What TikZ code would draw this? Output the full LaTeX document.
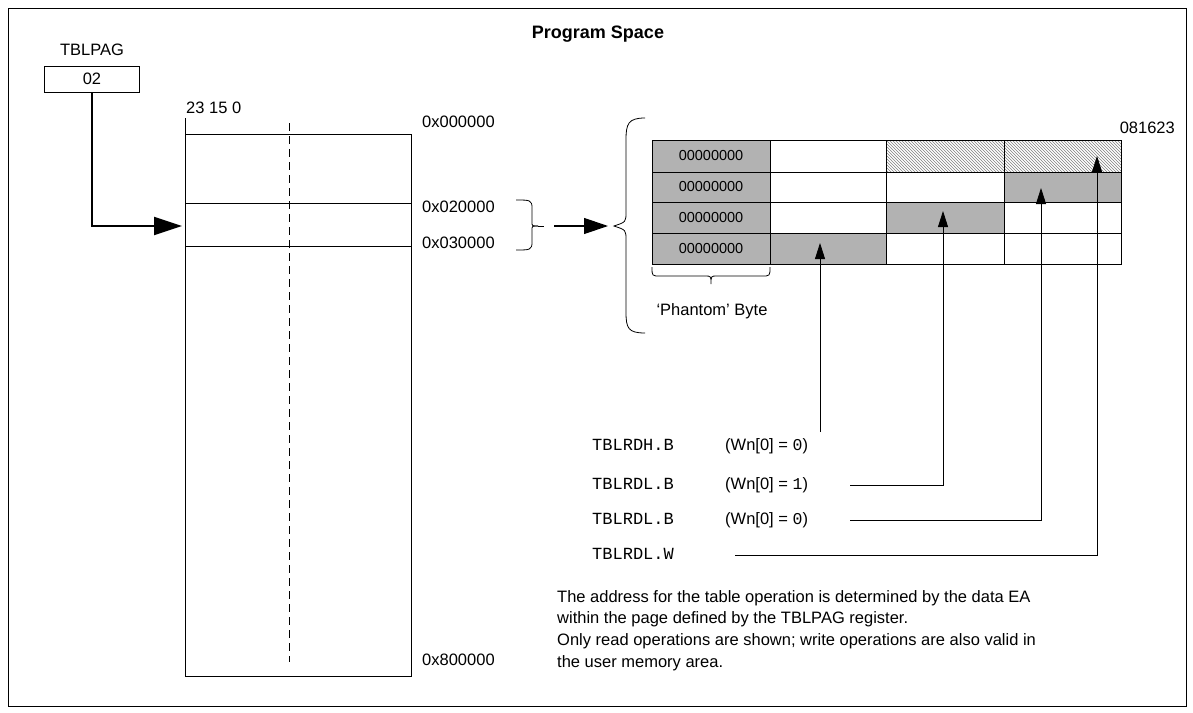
\documentclass[tikz,border=0pt]{standalone}
\usepackage{fontspec}
\setmainfont{Liberation Sans}
\newfontfamily\monof{Liberation Mono}
\usetikzlibrary{patterns,arrows.meta}
\begin{document}
\begin{tikzpicture}[x=1pt,y=-1pt,
  txt/.style={font=\fontsize{16.5}{19}\selectfont, inner sep=0pt},
  mono/.style={font=\monof\fontsize{17}{19}\selectfont, inner sep=0pt},
  cell/.style={draw, line width=0.8pt},
  gray/.style={cell, fill=gray!60},
  hatch/.style={cell, pattern=north west lines, pattern color=gray},
  arr/.style={-{Triangle[length=24pt,width=16pt]}, line width=1.2pt},
  sarr/.style={-{Triangle[length=16pt,width=10pt]}, line width=0.8pt},
  ln/.style={line width=0.8pt}]
\useasboundingbox (0,0) rectangle (1193,712);
\draw[ln] (8,8) rectangle (1186,706);
\node[txt, font=\bfseries\fontsize{18}{20}\selectfont] (title) at (598,34) {Program Space};
\node[txt] (tl) at (92,50) {TBLPAG};
\node[txt, draw, ln, minimum width=95pt, minimum height=26pt] (tb) at (92,79) {02};
\coordinate (mid) at (182,226);
\coordinate (bend) at (92,226);
\draw[-{Triangle[length=28pt,width=18pt]}, line width=2.2pt] (tb.south) -- (bend) -- (mid);
% memory column
\draw[ln] (185,134) rectangle (411,676);
\draw[ln] (185,203) -- (411,203);
\draw[ln] (185,246) -- (411,246);
\draw[ln, dashed, dash pattern=on 8pt off 5pt] (289,123) -- (289,662);
\draw[ln] (185,118) -- (185,134);
\node[txt, anchor=west] (bits) at (186,108) {23 15 0};
\node[txt, anchor=west] (a0) at (422,122) {0x000000};
\node[txt, anchor=west] (a2) at (422,207) {0x020000};
\node[txt, anchor=west] (a3) at (422,243) {0x030000};
\node[txt, anchor=west] (a8) at (422,660) {0x800000};
% small bracket
\draw[ln] (516,200) .. controls (530,200) and (532,200) .. (532,208) -- (532,222) .. controls (532,226) .. (538,226);
\draw[ln] (516,250) .. controls (530,250) and (532,250) .. (532,242) -- (532,230) .. controls (532,226) .. (538,226);
\draw[ln] (538,226) -- (544,226);
\coordinate (bt) at (608,226);
\draw[arr] (554,226) -- (bt);
% big brace
\draw[ln] (645,118) .. controls (628,118) and (626,124) .. (626,140) -- (626,212) .. controls (626,222) .. (614,226) .. controls (626,230) .. (626,240) -- (626,312) .. controls (626,328) and (628,333) .. (645,333);
% table
\foreach \r/\ya/\yb in {1/140/172,2/172/202,3/202/233,4/233/264}{
  \draw[gray] (652,\ya) rectangle (770,\yb);
  \node[font=\fontsize{14.5}{16}\selectfont, inner sep=0pt] (p\r) at (711,{(\ya+\yb)/2}) {00000000};
  \draw[cell] (770,\ya) rectangle (886,\yb);
  \draw[cell] (886,\ya) rectangle (1004,\yb);
  \draw[cell] (1004,\ya) rectangle (1121,\yb);
}
\draw[hatch] (886,140) rectangle (1004,172);
\draw[hatch] (1004,140) rectangle (1121,172);
\draw[gray] (1004,172) rectangle (1121,202);
\draw[gray] (886,202) rectangle (1004,233);
\draw[gray] (770,233) rectangle (886,264);
\node[txt, anchor=east] (bn) at (1175,128) {081623};
% phantom brace
\draw[ln] (652,267) .. controls (652,276) .. (660,276) -- (705,276) .. controls (711,276) .. (711,284) .. controls (711,276) .. (717,276) -- (762,276) .. controls (770,276) .. (770,267);
\node[txt] (ph) at (712,311) {`Phantom' Byte};
% instruction labels
\node[mono, anchor=west] (i1) at (592,445) {TBLRDH.B};
\node[txt, anchor=west] (w1) at (725,446) {(Wn[0] = {\monof 0})};
\node[mono, anchor=west] (i2) at (592,484) {TBLRDL.B};
\node[txt, anchor=west] (w2) at (725,485) {(Wn[0] = {\monof 1})};
\node[mono, anchor=west] (i3) at (592,519) {TBLRDL.B};
\node[txt, anchor=west] (w3) at (725,520) {(Wn[0] = {\monof 0})};
\node[mono, anchor=west] (i4) at (592,554) {TBLRDL.W};
\coordinate (t1) at (820,243);
\coordinate (t2) at (943,211);
\coordinate (t3) at (1041,188);
\coordinate (t4) at (1097,156);
\draw[sarr] (820,432) -- (t1);
\draw[sarr] (850,485) -| (t2);
\draw[sarr] (850,520) -| (t3);
\draw[sarr] (735,555) -| (t4);
\node[txt, anchor=north west, align=left, font=\fontsize{16.5}{21.7}\selectfont] (para) at (557,590) {The address for the table operation is determined by the data EA\\within the page defined by the TBLPAG register.\\Only read operations are shown; write operations are also valid in\\the user memory area.};
\end{tikzpicture}
\end{document}
